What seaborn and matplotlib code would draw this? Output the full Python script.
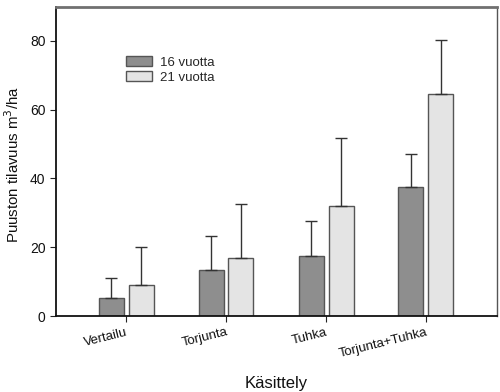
import matplotlib
matplotlib.use("Agg")
import matplotlib.pyplot as plt
import seaborn as sns
import pandas as pd
import numpy as np
from matplotlib.patches import Patch

categories = ["Vertailu", "Torjunta", "Tuhka", "Torjunta+Tuhka"]
series_names = ["16 vuotta", "21 vuotta"]
vals_16 = [5.1, 13.3, 17.5, 37.4]
vals_21 = [8.9, 17.0, 32.1, 64.5]
err_16 = [5.9, 10.0, 10.1, 9.8]
err_21 = [11.1, 15.6, 19.6, 15.6]

sns.set_style("white")
plt.rcParams['font.family'] = ['Liberation Sans', 'DejaVu Sans']

df = pd.DataFrame({
    "cat": categories * 2,
    "series": [series_names[0]] * 4 + [series_names[1]] * 4,
    "val": vals_16 + vals_21,
    "err": err_16 + err_21,
})

fig = plt.figure(figsize=(5.0, 3.92), dpi=100)
ax = fig.add_axes([56/500, 1 - 316/392, 441/500, 309/392])

colors = ["#8e8e8e", "#e4e4e4"]
sns.barplot(data=df, x="cat", y="val", hue="series", hue_order=series_names,
            order=categories, palette=colors, width=0.6, gap=1/6,
            edgecolor="#555555", linewidth=1.0, errorbar=None, ax=ax,
            legend=False)

# error bars (upper only) at bar centres
for i, name in enumerate(series_names):
    bars = ax.containers[i]
    sub = df[df.series == name].set_index("cat").loc[categories]
    xs = [b.get_x() + b.get_width() / 2 for b in bars]
    ax.errorbar(xs, sub["val"].values, yerr=[np.zeros(4), sub["err"].values],
                fmt="none", ecolor="#333333", elinewidth=1.0, capsize=4.5,
                capthick=1.0, zorder=1)

ax.set_ylim(0, 89.8)
ax.set_xlim(-0.7, 3.71)
ax.set_yticks([0, 20, 40, 60, 80])
ax.tick_params(axis="y", labelsize=10, length=4, direction="out", left=True,
               color="#222222", labelcolor="#111111")
ax.tick_params(axis="x", labelsize=9.5, length=4, direction="out", bottom=True,
               color="#222222", labelcolor="#111111")
for lab in ax.get_xticklabels():
    lab.set_rotation(14)
    lab.set_ha("right")
    lab.set_rotation_mode("anchor")

ax.set_xlabel("Käsittely", fontsize=12, color="#111111")
ax.xaxis.set_label_coords(0.5, -0.195)
ax.set_ylabel("Puuston tilavuus m$^3$/ha", fontsize=10.8, color="#111111")
ax.yaxis.set_label_coords(-0.077, 0.49)

for s in ["left", "bottom"]:
    ax.spines[s].set_color("#111111")
    ax.spines[s].set_linewidth(1.3)
ax.spines["top"].set_color("#707070")
ax.spines["top"].set_linewidth(2.0)
ax.spines["right"].set_color("#555555")
ax.spines["right"].set_linewidth(1.0)

handles = [Patch(facecolor=c, edgecolor="#555555", linewidth=1.0) for c in colors]
ax.legend(handles, series_names, loc="upper left", bbox_to_anchor=(0.147, 0.86),
          frameon=False, fontsize=9.5, handlelength=2.0, handleheight=0.9,
          handletextpad=0.55, labelspacing=0.15, borderaxespad=0)

fig.savefig("out.png", dpi=100)
